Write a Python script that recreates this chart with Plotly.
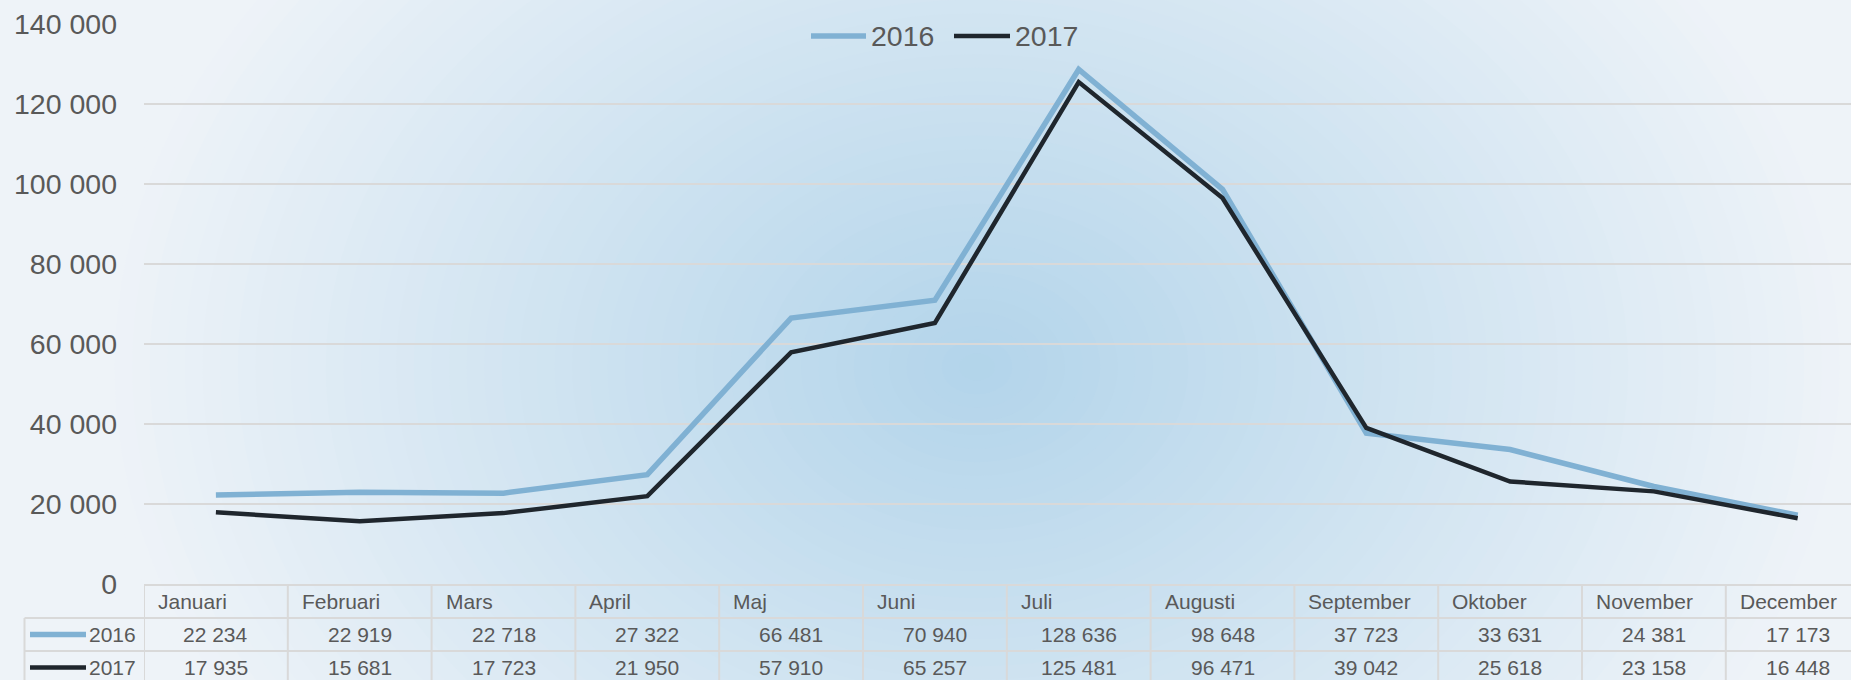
import plotly.graph_objects as go

months = ["Januari", "Februari", "Mars", "April", "Maj", "Juni", "Juli",
          "Augusti", "September", "Oktober", "November", "December"]
years = ["2016", "2017"]
v2016 = [22234, 22919, 22718, 27322, 66481, 70940, 128636, 98648, 37723, 33631, 24381, 17173]
v2017 = [17935, 15681, 17723, 21950, 57910, 65257, 125481, 96471, 39042, 25618, 23158, 16448]
y_ticks = [0, 20000, 40000, 60000, 80000, 100000, 120000, 140000]

series = [v2016, v2017]
colors = ["#80b1d3", "#1f262d"]
widths = [5.5, 4.5]

FW, FH = 1851, 680
ML, MR, MT, MB = 144, 0, 24, 96
PW, PH = FW - ML - MR, FH - MT - MB
CELL = 143.8  # px per month column

def xp(px):
    return (px - ML) / PW

def yp(py):
    return (FH - MB - py) / PH

FONT = "Arial, Liberation Sans, sans-serif"
TXT = "#595959"
GRID = "#d9d9d9"

fig = go.Figure()
for name, vals, col, w in zip(years, series, colors, widths):
    fig.add_trace(go.Scatter(x=months, y=vals, name=name, mode="lines",
                             line=dict(color=col, width=w), showlegend=False))

shapes = []
# radial background (concentric ellipses)
cx, cy, ra, rb = 977, 367, 880, 680
c0 = (178, 212, 234)
c1 = (238, 243, 248)
N = 50
for k in range(N, 0, -1):
    t = k / N
    col = tuple(round(c0[i] + (c1[i] - c0[i]) * t) for i in range(3))
    shapes.append(dict(type="circle", xref="paper", yref="paper", layer="below",
                       x0=xp(cx - ra * t), x1=xp(cx + ra * t),
                       y0=yp(cy + rb * t), y1=yp(cy - rb * t),
                       fillcolor="rgb(%d,%d,%d)" % col, line=dict(width=0)))

# table grid
row_top, row_h = 585, 33
bottom = 690
shapes.append(dict(type="line", xref="paper", yref="paper", x0=xp(ML), x1=xp(FW + 20),
                   y0=yp(row_top), y1=yp(row_top), line=dict(color=GRID, width=2)))
for r in (1, 2):
    yy = row_top + r * row_h
    shapes.append(dict(type="line", xref="paper", yref="paper", x0=xp(24.5), x1=xp(FW + 20),
                       y0=yp(yy), y1=yp(yy), line=dict(color=GRID, width=2)))
shapes.append(dict(type="line", xref="paper", yref="paper", x0=xp(24.5), x1=xp(24.5),
                   y0=yp(row_top + row_h), y1=yp(bottom), line=dict(color=GRID, width=2)))
for i in range(len(months)):
    shapes.append(dict(type="line", xref="x", yref="paper", x0=i - 0.5, x1=i - 0.5,
                       y0=yp(row_top), y1=yp(bottom), line=dict(color=GRID, width=2)))

annotations = []
# month header row
for i, m in enumerate(months):
    annotations.append(dict(x=i - 0.5, xref="x", y=yp(row_top + row_h / 2 + 0.5), yref="paper",
                            text=m, showarrow=False, xanchor="left", yanchor="middle",
                            xshift=12, font=dict(family=FONT, size=21, color=TXT)))
# value rows + row keys
for r, (name, vals, col, w) in enumerate(zip(years, series, colors, widths)):
    ymid = row_top + row_h * (r + 1) + row_h / 2
    for m, v in zip(months, vals):
        annotations.append(dict(x=m, xref="x", y=yp(ymid), yref="paper",
                                text=f"{v:,}".replace(",", " "), showarrow=False,
                                xanchor="center", yanchor="middle",
                                font=dict(family=FONT, size=21, color=TXT)))
    shapes.append(dict(type="line", xref="paper", yref="paper", x0=xp(30), x1=xp(86),
                       y0=yp(ymid), y1=yp(ymid), line=dict(color=col, width=w)))
    annotations.append(dict(x=xp(87), xref="paper", y=yp(ymid), yref="paper", text=name,
                            showarrow=False, xanchor="left", yanchor="middle",
                            font=dict(family=FONT, size=21, color=TXT)))

# top legend
leg = [(811, 866, 869), (954, 1010, 1013)]
for (lx0, lx1, tx), name, col, w in zip(leg, years, colors, widths):
    shapes.append(dict(type="line", xref="paper", yref="paper", x0=xp(lx0), x1=xp(lx1),
                       y0=yp(36), y1=yp(36), line=dict(color=col, width=w)))
    annotations.append(dict(x=xp(tx), xref="paper", y=yp(36), yref="paper", text=name,
                            showarrow=False, xanchor="left", yanchor="middle",
                            font=dict(family=FONT, size=28.5, color=TXT)))

fig.update_layout(
    width=FW, height=FH,
    margin=dict(l=ML, r=MR, t=MT, b=MB, pad=0),
    paper_bgcolor="rgb(238,243,248)",
    plot_bgcolor="rgba(0,0,0,0)",
    separators=", ",
    showlegend=False,
    shapes=shapes,
    annotations=annotations,
    xaxis=dict(type="category", categoryarray=months, range=[-0.5, -0.5 + PW / CELL],
               showticklabels=False, showgrid=False, zeroline=False, showline=False,
               fixedrange=True),
    yaxis=dict(range=[0, 140000], tickvals=y_ticks, tickformat=",d",
               showgrid=True, gridcolor=GRID, gridwidth=2, zeroline=False,
               showline=False, ticks="", ticklabelstandoff=26,
               tickfont=dict(family=FONT, size=28.5, color=TXT), fixedrange=True),
)

fig.write_html("out.html", config={"displayModeBar": False},
               post_script="document.body.style.margin='0';document.body.style.overflow='hidden';")
